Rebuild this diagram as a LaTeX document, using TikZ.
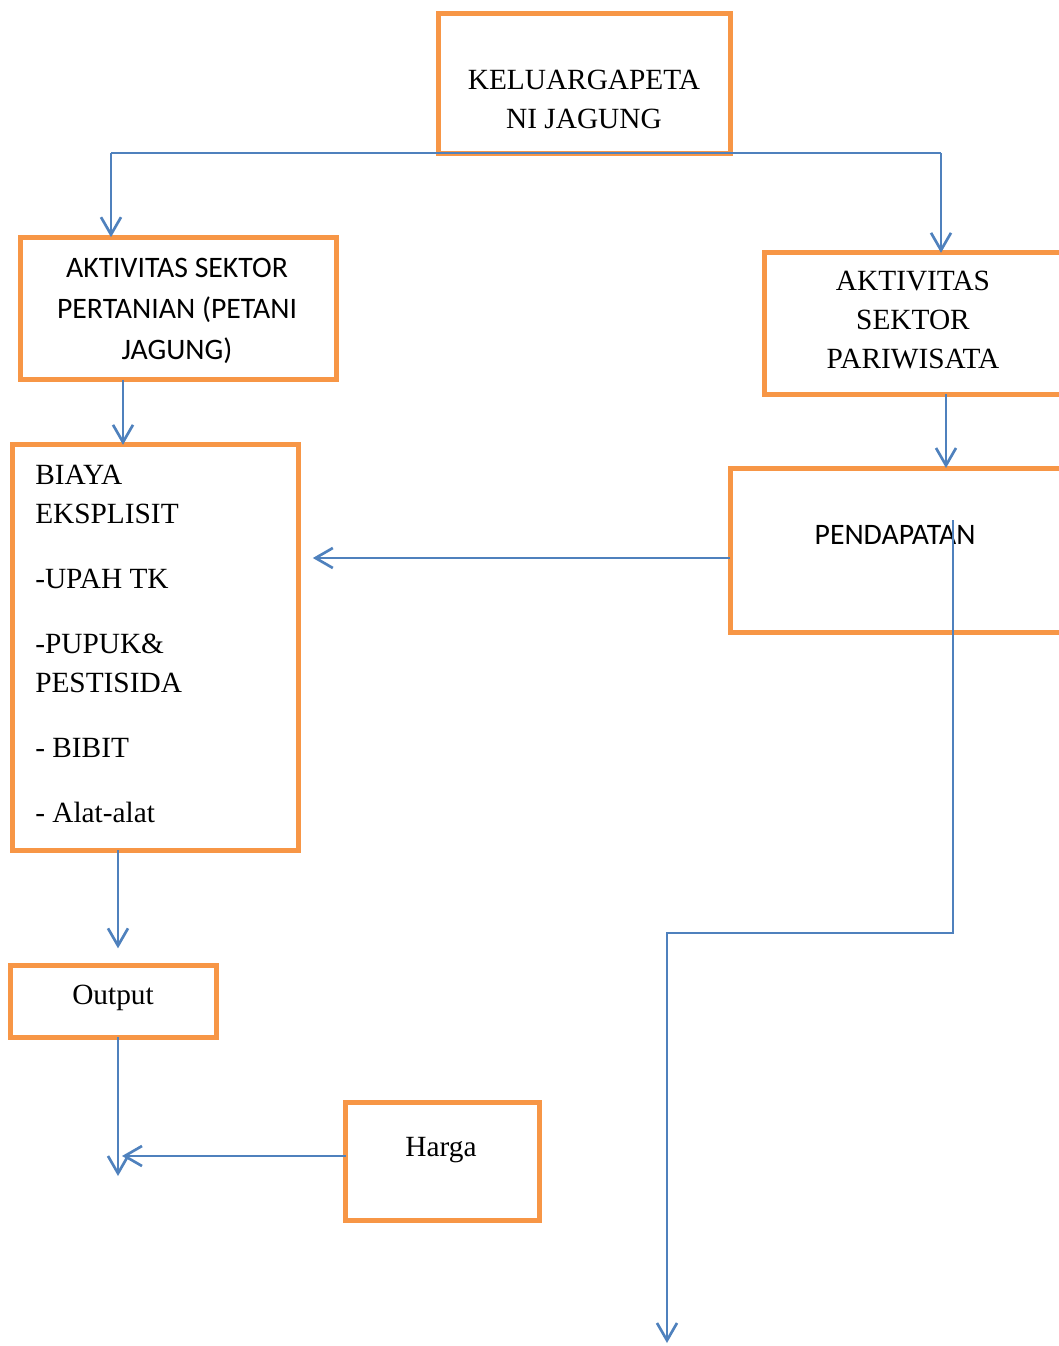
\documentclass[tikz,border=0pt]{standalone}
\usepackage{fontspec}
\setmainfont{Liberation Serif}
\newfontfamily\calibri{Carlito}
\usepackage{tikz}
\usetikzlibrary{arrows.meta}
\usetikzlibrary{positioning}
\definecolor{boxorange}{RGB}{247,150,70}
\definecolor{lineblue}{RGB}{79,129,189}
\tikzstyle{Abox}=[draw=boxorange,line width=3.75pt,inner sep=0,outer sep=0]
\tikzstyle{Atxt}=[inner sep=0,font=\fontsize{22}{29.25}\selectfont,align=center]
\tikzstyle{Asans}=[inner sep=0,font=\calibri\fontsize{22.3}{30.75}\selectfont,align=center]
\tikzstyle{link}=[draw=lineblue,line width=2pt]
\tikzstyle{flow}=[link,-{Straight Barb[length=13pt,width=15pt,line width=2pt]}]

\begin{document}
\begin{tikzpicture}[x=0.75pt,y=-0.75pt]
\path[use as bounding box] (0,0) rectangle (1059,1346);

% boxes
\node[Abox,minimum width=219pt,minimum height=105pt] (kp) at (584,83) {};
\node[Abox,minimum width=237pt,minimum height=107pt] (aktp) at (178,308.5) {};
\node[Abox,minimum width=237pt,minimum height=106pt] (aktw) at (922,323.5) {};
\node[Abox,minimum width=215pt,minimum height=304pt] (biaya) at (155.5,647.5) {};
\node[Abox,minimum width=262.5pt,minimum height=123pt] (pend) at (905,550) {};
\node[Abox,minimum width=155pt,minimum height=54pt] (out) at (113.5,1001) {};
\node[Abox,minimum width=145pt,minimum height=88.5pt] (harga) at (442.5,1161) {};

% texts (base = last line)
\node[Atxt,anchor=base] (kpt) at (584,128.5) {KELUARGAPETA\\NI JAGUNG};
\node[Asans,anchor=base] (aktpt) at (177,359) {AKTIVITAS SEKTOR\\PERTANIAN (PETANI\\JAGUNG)};
\node[Atxt,anchor=base] (aktwt) at (913,368.5) {AKTIVITAS\\SEKTOR\\PARIWISATA};
\node[Atxt,align=left,anchor=base west] (biayat) at (35,822.5)
  {BIAYA\\EKSPLISIT\\[19.5pt]-UPAH TK\\[19.5pt]-PUPUK\&\\PESTISIDA\\[19.5pt]- BIBIT\\[19.5pt]- Alat-alat};
\node[Asans,anchor=base] (pendt) at (895,544) {PENDAPATAN};
\node[Atxt,anchor=base] (outt) at (113,1004) {Output};
\node[Atxt,anchor=base] (hargat) at (441,1156) {Harga};

% connectors
\coordinate (jl) at (111,153);
\coordinate (jr) at (941,153);
\coordinate (hasil) at (118,1176);
\coordinate (p0) at (953,520);
\coordinate (p1) at (667,1343);

\draw[link] (jl) -- (jr);
\draw[flow] (jl) -- (jl |- aktp.north);
\draw[flow] (jr) -- (jr |- aktw.north);
\draw[flow] (aktp.south -| 123,0) -- (biaya.north -| 123,0);
\draw[flow] (aktw.south -| 946,0) -- (pend.north -| 946,0);
\draw[flow,shorten >=10.5pt] (pend.west |- 0,558) -- (biaya.east |- 0,558);
\draw[flow,shorten >=12.5pt] (biaya.south -| 118,0) -- (out.north -| 118,0);
\draw[flow] (out.south -| hasil) -- (hasil);
\draw[flow,shorten >=3pt] (harga.west |- 0,1156) -- (hasil |- 0,1156);
\draw[flow] (p0) |- (p1 |- 0,933) -- (p1);

\end{tikzpicture}
\end{document}
